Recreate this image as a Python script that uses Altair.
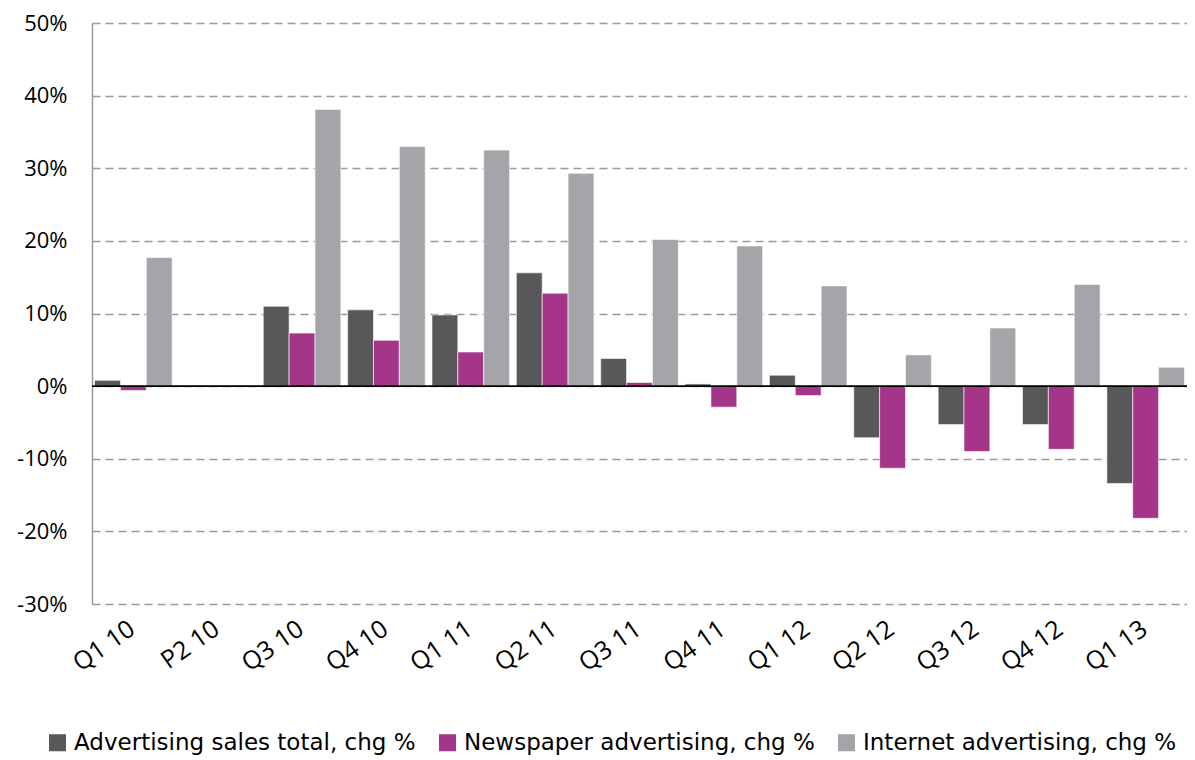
import altair as alt
import pandas as pd

categories = ["Q1 10", "P2 10", "Q3 10", "Q4 10", "Q1 11", "Q2 11", "Q3 11",
              "Q4 11", "Q1 12", "Q2 12", "Q3 12", "Q4 12", "Q1 13"]
series_names = ["Advertising sales total, chg %", "Newspaper advertising, chg %",
                "Internet advertising, chg %"]
total = [0.8, None, 11.0, 10.5, 9.8, 15.6, 3.8, 0.3, 1.5, -7.1, -5.3, -5.3, -13.4]
newspaper = [-0.6, None, 7.3, 6.3, 4.7, 12.8, 0.5, -2.9, -1.3, -11.3, -9.0, -8.7, -18.2]
internet = [17.7, None, 38.1, 33.0, 32.5, 29.3, 20.2, 19.3, 13.8, 4.3, 8.0, 14.0, 2.6]
colors = ["#58585A", "#A53589", "#A4A5A8"]

rows = []
for s, vals in zip(series_names, [total, newspaper, internet]):
    for c, v in zip(categories, vals):
        if v is not None:
            rows.append({"cat": c, "series": s, "value": v})
df = pd.DataFrame(rows)

FONT = "Open Sans"

bars = alt.Chart(df).mark_bar(stroke="white", strokeWidth=0.6).encode(
    x=alt.X("cat:N", sort=categories, scale=alt.Scale(domain=categories, paddingInner=0.08, paddingOuter=0.03),
            axis=alt.Axis(title=None, labelAngle=-35, labelFontSize=25, labelColor="black", labelFont=FONT,
                          ticks=False, domain=False, labelPadding=12, labelOffset=-8)),
    xOffset=alt.XOffset("series:N", sort=series_names),
    y=alt.Y("value:Q", scale=alt.Scale(domain=[-30, 50], nice=False),
            axis=alt.Axis(title=None, values=list(range(-30, 51, 10)), labelExpr="datum.value + '%'",
                          labelFontSize=22, labelColor="black", labelFont=FONT, ticks=False,
                          labelPadding=25, grid=True, gridDash=[8, 5], gridColor="#9A9A9A",
                          gridWidth=1.5, domain=True, domainColor="#9A9A9A", domainWidth=1.5)),
    color=alt.Color("series:N", sort=series_names,
                    scale=alt.Scale(domain=series_names, range=colors),
                    legend=alt.Legend(title=None, orient="none", legendX=-46, legendY=708,
                                      direction="horizontal", symbolType="square", symbolSize=290,
                                      symbolStrokeWidth=0, labelFontSize=23, labelFont="DejaVu Sans",
                                      labelColor="black", columnPadding=20, labelOffset=5,
                                      labelLimit=500)),
)

zero = alt.Chart(pd.DataFrame({"v": [0]})).mark_rule(color="black", strokeWidth=1.6).encode(
    y=alt.Y("v:Q")
)

chart = alt.layer(bars, zero).properties(
    width=1095, height=581,
    autosize=alt.AutoSizeParams(type="none"),
    padding={"left": 84, "top": 15, "right": 0, "bottom": 154},
).configure_view(stroke=None)

chart.save("out.html", embed_options={"renderer": "svg", "actions": False})
